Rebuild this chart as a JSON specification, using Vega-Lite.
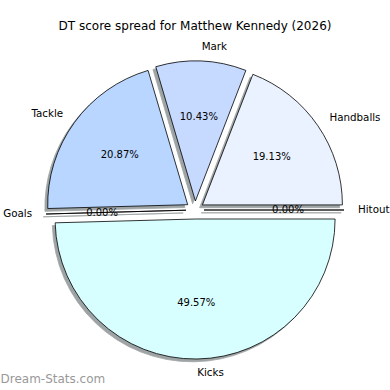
{
  "$schema": "https://vega.github.io/schema/vega-lite/v6.json",
  "width": 390,
  "height": 324,
  "autosize": {"type": "none"},
  "padding": {"top": 48, "left": 0, "right": 0, "bottom": 18},
  "title": {"text": "DT score spread for Matthew Kennedy (2026)", "font": "DejaVu Sans", "fontSize": 12, "fontWeight": "normal", "color": "#000000", "anchor": "middle", "frame": "group", "baseline": "alphabetic", "offset": 0},
  "config": {"view": {"stroke": null}},
  "data": {"values": [
    {"cat": "Kicks", "value": 57, "order": 1},
    {"cat": "Goals", "value": 0, "order": 2},
    {"cat": "Tackle", "value": 24, "order": 3},
    {"cat": "Mark", "value": 12, "order": 4},
    {"cat": "Handballs", "value": 22, "order": 5},
    {"cat": "Hitout", "value": 0, "order": 6}
  ]},
  "transform": [
    {"joinaggregate": [{"op": "sum", "field": "value", "as": "total"}]},
    {"calculate": "datum.value / datum.total", "as": "frac"}
  ],
  "layer": [
    {
      "mark": {"type": "point", "opacity": 0},
      "encoding": {"x": {"datum": 0, "type": "quantitative", "axis": {"title": "Dream-Stats.com", "labels": false, "ticks": false, "domain": false, "grid": false, "titleAnchor": "start", "titleFont": "DejaVu Sans", "titleFontSize": 12, "titleFontWeight": "normal", "titleColor": "#999999", "titlePadding": 1}}}
    },
    {
      "transform": [{"stack": "value", "groupby": [], "sort": [{"field": "order"}], "as": ["s0", "s1"]}, {"filter": "datum.cat === 'Kicks'"}],
      "encoding": {"theta": {"field": "s0", "type": "quantitative", "scale": {"domain": [0, 115], "range": [1.5708, 7.854]}}, "theta2": {"field": "s1"}},
      "layer": [
        {"mark": {"type": "arc", "radius": 140, "xOffset": -2.7, "yOffset": 11.8, "fill": "#404b4d", "opacity": 0.5, "stroke": "#404b4d", "strokeWidth": 0.8}},
        {"mark": {"type": "arc", "radius": 140, "xOffset": 0.1, "yOffset": 9, "fill": "#d8ffff", "stroke": "#000000", "strokeWidth": 0.8}}
      ]
    },
    {
      "transform": [{"stack": "value", "groupby": [], "sort": [{"field": "order"}], "as": ["s0", "s1"]}, {"filter": "datum.cat === 'Goals'"}],
      "encoding": {"theta": {"field": "s0", "type": "quantitative", "scale": {"domain": [0, 115], "range": [1.5708, 7.854]}}, "theta2": {"field": "s1"}},
      "layer": [
        {"mark": {"type": "arc", "radius": 140, "xOffset": -11.8, "yOffset": 3, "fill": "#404b4d", "opacity": 0.5, "stroke": "#404b4d", "strokeWidth": 0.8}},
        {"mark": {"type": "arc", "radius": 140, "xOffset": -9, "yOffset": 0.2, "fill": "#ffffff", "stroke": "#000000", "strokeWidth": 0.8}}
      ]
    },
    {
      "transform": [{"stack": "value", "groupby": [], "sort": [{"field": "order"}], "as": ["s0", "s1"]}, {"filter": "datum.cat === 'Tackle'"}],
      "encoding": {"theta": {"field": "s0", "type": "quantitative", "scale": {"domain": [0, 115], "range": [1.5708, 7.854]}}, "theta2": {"field": "s1"}},
      "layer": [
        {"mark": {"type": "arc", "radius": 140, "xOffset": -10.1, "yOffset": -2.5, "fill": "#404b4d", "opacity": 0.5, "stroke": "#404b4d", "strokeWidth": 0.8}},
        {"mark": {"type": "arc", "radius": 140, "xOffset": -7.3, "yOffset": -5.3, "fill": "#b8d6ff", "stroke": "#000000", "strokeWidth": 0.8}}
      ]
    },
    {
      "transform": [{"stack": "value", "groupby": [], "sort": [{"field": "order"}], "as": ["s0", "s1"]}, {"filter": "datum.cat === 'Mark'"}],
      "encoding": {"theta": {"field": "s0", "type": "quantitative", "scale": {"domain": [0, 115], "range": [1.5708, 7.854]}}, "theta2": {"field": "s1"}},
      "layer": [
        {"mark": {"type": "arc", "radius": 140, "xOffset": -2.4, "yOffset": -6.2, "fill": "#404b4d", "opacity": 0.5, "stroke": "#404b4d", "strokeWidth": 0.8}},
        {"mark": {"type": "arc", "radius": 140, "xOffset": 0.4, "yOffset": -9, "fill": "#c6d9ff", "stroke": "#000000", "strokeWidth": 0.8}}
      ]
    },
    {
      "transform": [{"stack": "value", "groupby": [], "sort": [{"field": "order"}], "as": ["s0", "s1"]}, {"filter": "datum.cat === 'Handballs'"}],
      "encoding": {"theta": {"field": "s0", "type": "quantitative", "scale": {"domain": [0, 115], "range": [1.5708, 7.854]}}, "theta2": {"field": "s1"}},
      "layer": [
        {"mark": {"type": "arc", "radius": 140, "xOffset": 4.6, "yOffset": -2.3, "fill": "#404b4d", "opacity": 0.5, "stroke": "#404b4d", "strokeWidth": 0.8}},
        {"mark": {"type": "arc", "radius": 140, "xOffset": 7.4, "yOffset": -5.1, "fill": "#ebf2ff", "stroke": "#000000", "strokeWidth": 0.8}}
      ]
    },
    {
      "transform": [{"stack": "value", "groupby": [], "sort": [{"field": "order"}], "as": ["s0", "s1"]}, {"filter": "datum.cat === 'Hitout'"}],
      "encoding": {"theta": {"field": "s0", "type": "quantitative", "scale": {"domain": [0, 115], "range": [1.5708, 7.854]}}, "theta2": {"field": "s1"}},
      "layer": [
        {"mark": {"type": "arc", "radius": 140, "xOffset": 6.2, "yOffset": 2.8, "fill": "#404b4d", "opacity": 0.5, "stroke": "#404b4d", "strokeWidth": 0.8}},
        {"mark": {"type": "arc", "radius": 140, "xOffset": 9, "yOffset": 0, "fill": "#ffffff", "stroke": "#000000", "strokeWidth": 0.8}}
      ]
    },
    {
      "mark": {"type": "text", "radius": 93, "font": "DejaVu Sans", "fontSize": 10, "color": "#000000", "baseline": "middle", "align": "center"},
      "encoding": {
        "theta": {"field": "value", "type": "quantitative", "stack": true, "scale": {"domain": [0, 115], "range": [1.5708, 7.854]}},
        "order": {"field": "order", "type": "quantitative"},
        "text": {"field": "frac", "type": "quantitative", "format": ".2%"}
      }
    },
    {
      "mark": {"type": "text", "radius": 163, "font": "DejaVu Sans", "fontSize": 10.3, "color": "#000000", "baseline": "middle", "align": "left"},
      "encoding": {
        "theta": {"field": "value", "type": "quantitative", "stack": true, "scale": {"domain": [0, 115], "range": [1.5708, 7.854]}},
        "order": {"field": "order", "type": "quantitative"},
        "text": {"condition": {"test": "datum.cat !== 'Tackle' && datum.cat !== 'Goals'", "field": "cat"}, "value": ""}
      }
    },
    {
      "mark": {"type": "text", "radius": 163, "font": "DejaVu Sans", "fontSize": 10.3, "color": "#000000", "baseline": "middle", "align": "right"},
      "encoding": {
        "theta": {"field": "value", "type": "quantitative", "stack": true, "scale": {"domain": [0, 115], "range": [1.5708, 7.854]}},
        "order": {"field": "order", "type": "quantitative"},
        "text": {"condition": {"test": "datum.cat === 'Tackle' || datum.cat === 'Goals'", "field": "cat"}, "value": ""}
      }
    }
  ]
}
